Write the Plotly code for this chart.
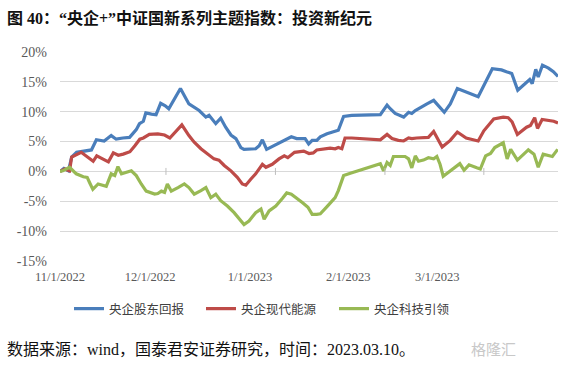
import plotly.graph_objects as go

# x positions: calendar days counted from 11/1/2022
blue_x = [0, 1.1, 2.4, 3.3, 4.7, 7.0, 8.9, 10.3, 12.5, 14.5, 15.9, 17.8, 19.7, 21.6, 22.5, 23.6, 24.3, 25.9, 27.2, 28.5,
          29.8, 30.8, 32.3, 34.1, 36.5, 38.0, 39.4, 41.3, 42.2, 44.1, 45.5, 46.9, 48.4, 49.8, 51.2, 52.1, 55.4, 56.4, 57.3, 58.5,
          60.1, 62.5, 65.5, 67.0, 69.4, 70.4, 71.4, 72.7, 73.7, 75.6, 77.4, 78.8, 80.3, 82.6, 90.7, 91.6, 92.6, 93.5, 94.9, 97.3,
          98.7, 99.6, 100.6, 103.9, 105.8, 108.8, 110.5, 112.5, 113.8, 116.1, 118.4, 122.4, 125.0, 126.4, 127.9, 129.6, 132.2,
          133.0, 133.7, 134.7, 135.4, 136.6, 138.3, 139.7, 141.0]
blue_y = [0, 0.5, 0.1, 2.4, 3.2, 3.4, 3.6, 5.3, 5.1, 6.0, 5.4, 5.6, 5.7, 7.0, 8.0, 8.4, 9.8, 9.6, 9.5, 11.4,
          11.0, 10.5, 12.0, 13.9, 11.3, 10.8, 10.2, 9.1, 9.4, 8.0, 8.9, 7.4, 6.1, 5.5, 4.0, 3.7, 3.8, 4.3, 5.3, 3.7,
          4.2, 5.0, 5.8, 5.5, 5.5, 4.6, 5.2, 5.2, 5.8, 6.3, 6.6, 6.9, 9.2, 9.4, 9.5, 10.2, 11.1, 10.5, 9.7, 9.1,
          9.9, 9.7, 10.2, 11.3, 11.9, 9.9, 11.3, 13.9, 13.6, 13.0, 12.5, 17.2, 17.0, 16.7, 16.4, 13.6, 15.0,
          15.4, 14.7, 17.1, 15.8, 17.8, 17.3, 16.7, 15.9]

red_x = [0, 1.3, 2.7, 3.3, 6.0, 7.7, 9.4, 10.4, 12.5, 13.7, 15.1, 16.5, 17.9, 19.8, 21.2, 22.6, 23.6, 25.3, 27.7, 29.6,
         31.1, 32.7, 34.5, 36.5, 38.0, 39.9, 41.7, 43.6, 45.0, 46.5, 48.4, 50.2, 51.6, 52.6, 54.0, 55.4, 57.3, 58.3, 60.1, 62.0,
         63.5, 64.5, 66.4, 69.0, 70.5, 71.7, 72.7, 74.6, 76.5, 77.9, 78.8, 79.8, 80.7, 82.6, 90.7, 92.6, 94.0, 95.8, 97.3, 98.7,
         99.6, 101.0, 104.3, 105.8, 106.7, 108.2, 110.5, 112.5, 115.0, 118.4, 120.0, 122.8, 125.5, 126.9, 128.0, 129.5, 132.1,
         133.2, 134.4, 135.2, 136.5, 138.3, 139.8, 141.0]
red_y = [0, 0.4, 0.1, 2.4, 3.2, 2.5, 1.7, 2.6, 1.9, 1.6, 3.1, 2.7, 2.9, 3.3, 4.3, 5.4, 5.6, 6.2, 6.3, 6.1,
         5.6, 6.7, 7.8, 6.0, 4.9, 3.8, 2.9, 2.1, 1.9, 1.0, 0.1, -1.0, -2.1, -2.3, -1.3, -0.4, 1.2, 0.7, 1.2, 2.1,
         2.6, 2.3, 3.2, 3.4, 3.0, 3.1, 3.6, 3.8, 3.9, 3.8, 4.0, 3.8, 5.6, 5.6, 5.3, 6.2, 5.5, 5.2, 5.1, 5.6,
         5.5, 5.6, 5.7, 6.7, 5.7, 4.1, 5.2, 6.6, 5.6, 5.1, 6.8, 8.8, 9.1, 9.0, 8.3, 6.2, 7.4,
         7.7, 9.0, 7.2, 8.7, 8.6, 8.4, 8.1]

green_x = [0, 0.8, 2.7, 4.6, 6.6, 7.7, 8.4, 9.3, 10.8, 13.1, 14.5, 15.5, 16.4, 17.4, 20.2, 21.6, 23.0, 24.4, 26.8, 27.7,
           28.7, 29.6, 30.4, 31.5, 33.4, 35.2, 36.5, 38.0, 39.9, 41.3, 42.7, 44.1, 45.5, 47.4, 49.3, 50.7, 52.1, 53.5, 55.4, 56.9,
           57.8, 59.2, 61.1, 63.0, 64.2, 65.5, 67.0, 68.6, 70.2, 71.4, 72.7, 73.7, 75.6, 77.9, 78.8, 80.3, 82.2, 85.9, 90.7, 91.6,
           92.6, 93.5, 94.4, 97.7, 98.7, 99.6, 100.6, 101.5, 102.9, 104.3, 105.8, 106.7, 107.6, 108.5, 110.8, 113.2, 114.4, 115.8,
           118.0, 119.0, 120.5, 121.9, 123.1, 125.5, 126.6, 127.6, 129.5, 132.6, 134.2, 135.4, 136.8, 139.4, 140.9]
green_y = [0, 0.1, 0.7, -0.4, -0.9, -1.0, -1.9, -3.0, -2.1, -2.5, -0.4, -0.7, 0.8, -0.4, 0.1, -0.7, -2.1, -3.3, -3.8, -3.7,
           -3.3, -3.5, -2.1, -3.3, -2.7, -2.1, -2.7, -3.8, -3.2, -2.7, -4.4, -3.8, -4.9, -5.8, -6.9, -8.0, -8.9, -8.3, -6.9, -6.3,
           -8.0, -6.6, -5.8, -4.5, -3.6, -3.8, -4.4, -5.2, -6.0, -7.2, -7.2, -7.1, -5.9, -4.4, -3.2, -0.7, -0.3, 0.4, 1.3, 0.1,
           1.5, 1.0, 2.5, 2.5, 2.1, 0.6, 2.6, 1.7, 1.9, 2.3, 2.1, 2.5, 1.2, -0.8, 0.3, 1.3, 0.2, 1.1,
           0.6, 0.4, 2.6, 3.0, 4.0, 4.8, 2.1, 3.7, 1.9, 3.6, 2.9, 0.7, 2.9, 2.5, 3.7]

series_names = ["央企股东回报", "央企现代能源", "央企科技引领"]
series_colors = ["#4A7EBB", "#BE4B48", "#98B954"]

tick_x = [0, 25.5, 53.8, 81.6, 106.8]
tick_labels = ["11/1/2022", "12/1/2022", "1/1/2023", "2/1/2023", "3/1/2023"]
month_tick_x = [30, 61, 92, 120]
y_ticks = [-15, -10, -5, 0, 5, 10, 15, 20]
y_tick_labels = ["-15%", "-10%", "-5%", "0%", "5%", "10%", "15%", "20%"]

title_text = "图 40：“央企+”中证国新系列主题指数：投资新纪元"
source_text = "数据来源：wind，国泰君安证券研究，时间：2023.03.10。"

SERIF = "Liberation Serif, Noto Sans CJK SC"
W, H = 580, 366

legend_ids = ["legend", "legend2", "legend3"]
legend_left = [69, 201, 334]

fig = go.Figure()
for xs, ys, name, color, lg in zip([blue_x, red_x, green_x], [blue_y, red_y, green_y],
                                   series_names, series_colors, legend_ids):
    fig.add_trace(go.Scatter(x=xs, y=ys, name=name, mode="lines", legend=lg,
                             line=dict(color=color, width=3.2)))

fig.add_trace(go.Scatter(x=month_tick_x, y=[0] * len(month_tick_x), mode="markers", showlegend=False,
                         hoverinfo="skip",
                         marker=dict(symbol="line-ns", size=5, line=dict(color="#bfbfbf", width=1))))

legend_style = dict(orientation="h", xref="container", yref="container", xanchor="left",
                    y=1 - 309 / H, yanchor="middle",
                    font=dict(family="Noto Sans CJK SC", size=12.5, color="#404040"),
                    itemwidth=30, bgcolor="rgba(0,0,0,0)")

fig.update_layout(
    width=W, height=H, autosize=False,
    margin=dict(l=60, r=22, t=52, b=105, autoexpand=False),
    paper_bgcolor="white", plot_bgcolor="white",
    title=dict(text="<b>" + title_text + "</b>", xref="container", yref="container",
               x=7 / W, xanchor="left", y=1 - 18 / H, yanchor="middle",
               font=dict(family=SERIF, size=16, color="#111111")),
    showlegend=True,
    legend=dict(x=legend_left[0] / W, **legend_style),
    legend2=dict(x=legend_left[1] / W, **legend_style),
    legend3=dict(x=legend_left[2] / W, **legend_style),
    xaxis=dict(range=[0, 141], tickvals=tick_x, ticktext=tick_labels, showgrid=False,
               zeroline=False, showline=False, ticks="",
               tickfont=dict(family="Liberation Serif", size=12.5, color="#595959"),
               ticklabelstandoff=6),
    yaxis=dict(range=[-15, 20], tickvals=y_ticks, ticktext=y_tick_labels, showgrid=True,
               gridcolor="#d9d9d9", gridwidth=1, zeroline=False, showline=False, ticks="",
               tickfont=dict(family="Liberation Serif", size=14, color="#595959"),
               ticklabelstandoff=12),
    annotations=[
        dict(text=source_text, xref="paper", yref="paper", x=(5 - 60) / 498, xanchor="left",
             y=(261 - 349) / 209, yanchor="middle", showarrow=False,
             font=dict(family=SERIF, size=16, color="#111111")),
        dict(text="格隆汇", xref="paper", yref="paper", x=(518 - 60) / 498, xanchor="right",
             y=(261 - 348) / 209, yanchor="middle", showarrow=False,
             font=dict(family="Noto Sans CJK SC", size=15, color="#c8c8c8")),
    ],
)

fig.write_html("out.html", config={"displayModeBar": False},
               post_script="document.body.style.margin='0';")
